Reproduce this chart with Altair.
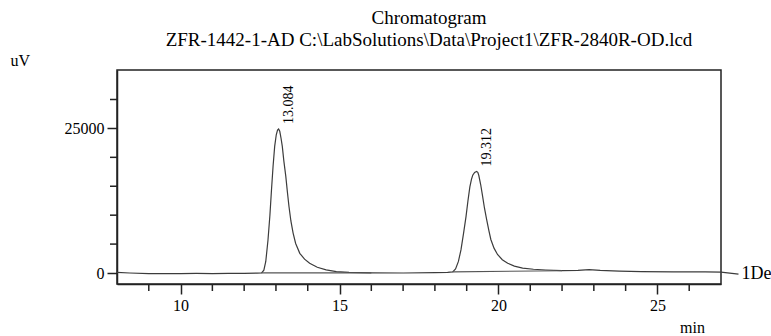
import altair as alt
import pandas as pd

# Chromatogram trace (min, uV)
times = [8.0, 8.4, 9.0, 9.5, 10.0, 10.5, 11.0, 11.5, 12.0, 12.4, 12.55, 12.62, 12.68,
         12.75, 12.81, 12.86, 12.91, 12.96, 13.01, 13.05, 13.084, 13.12, 13.16, 13.20,
         13.25, 13.31, 13.36, 13.41, 13.47, 13.54, 13.62, 13.75, 13.90, 14.06, 14.3,
         14.58, 14.9, 15.3, 16.0, 17.0, 18.0, 18.4, 18.56, 18.65, 18.74, 18.82, 18.90,
         18.98, 19.04, 19.10, 19.15, 19.19, 19.25, 19.312, 19.35, 19.38, 19.44, 19.50,
         19.56, 19.63, 19.70, 19.76, 19.86, 19.97, 20.12, 20.29, 20.5, 20.76, 21.1,
         21.49, 22.0, 22.5, 22.85, 23.2, 23.8, 24.5, 25.5, 26.5, 27.0, 27.55]
signal = [100, 0, -120, -100, -120, -80, -100, -60, -50, -20, 20, 500, 2000,
          5700, 10000, 14400, 18500, 21900, 23900, 24700, 24900, 24500, 23300, 21900,
          19300, 16700, 14000, 11500, 9000, 6900, 5100, 3400, 2400, 1700, 1000,
          550, 250, 100, 20, 0, 50, 100, 200, 700, 2000, 4000, 6800,
          9800, 12500, 14900, 16200, 16900, 17400, 17550, 17400, 16900, 15300, 13300,
          11200, 9200, 7300, 5800, 4300, 3200, 2300, 1700, 1200, 850, 650,
          520, 400, 450, 600, 450, 320, 250, 200, 180, 160, -200]

# integration baselines
base_peak = ["p1", "p1", "p2", "p2"]
base_time = [12.55, 16.0, 18.56, 22.0]
base_value = [20, 20, 200, 400]

# peak labels
peak_rt = [13.084, 19.312]
peak_height = [24900, 17550]
peak_label = ["13.084", "19.312"]

det_label = ["1Det.A Ch1"]

x_minor = [9.0, 11.0, 12.0, 13.0, 14.0, 16.0, 17.0, 18.0, 19.0, 21.0, 22.0, 23.0, 24.0, 26.0]
x_major = [10, 15, 20, 25]
y_minor = [5000.0, 10000.0, 15000.0, 20000.0, 30000.0]
y_major = [0, 25000]

FONT = "Liberation Serif, Times New Roman, DejaVu Serif, serif"
LINE = "#3c3c3c"
DARK = "#222222"

trace = pd.DataFrame({"t": times, "v": signal})
base = pd.DataFrame({"peak": base_peak, "t": base_time, "v": base_value})
peaks = pd.DataFrame({"t": peak_rt, "v": peak_height, "label": peak_label})
det = pd.DataFrame({"t": [times[-1]], "v": [signal[-1]], "label": det_label})
xmin_df = pd.DataFrame({"t": x_minor})
ymin_df = pd.DataFrame({"v": y_minor})

xscale = alt.Scale(domain=[8, 27], nice=False, zero=False)
yscale = alt.Scale(domain=[-1900, 35100], nice=False, zero=False)

common = dict(
    grid=False, labelOverlap=False, labelFlush=False,
    labelFont=FONT, labelFontSize=16, labelColor="black",
    titleFont=FONT, titleFontSize=16, titleFontWeight="normal", titleColor="black",
    domainColor=DARK, domainWidth=1.5, tickColor=DARK, tickWidth=1.5,
)

x_axis = alt.Axis(
    values=x_major, tickSize=10, format="d", labelPadding=3,
    title="min", titleX=575, titleY=43, titleAlign="center", titleBaseline="middle",
    **common,
)
y_axis = alt.Axis(
    values=y_major, tickSize=10, format="d", labelPadding=3,
    title="uV", titleAngle=0, titleX=-107, titleY=-10, titleAlign="left",
    titleBaseline="middle", **common,
)

X = alt.X("t:Q", scale=xscale, axis=x_axis)
Y = alt.Y("v:Q", scale=yscale, axis=y_axis)

bl = alt.Chart(base).mark_line(color="#555555", strokeWidth=1.1).encode(
    x=X, y=Y, detail="peak:N",
)
line = alt.Chart(trace).mark_line(color=LINE, strokeWidth=1.2).encode(
    x=X, y=Y, order="t:Q",
)
detlab = alt.Chart(det).mark_text(
    align="left", baseline="middle", dx=3, font=FONT, fontSize=18, color="black",
).encode(x=X, y=Y, text="label:N")

labels = alt.Chart(peaks).mark_text(
    angle=270, align="left", baseline="middle", dx=5, dy=10,
    font=FONT, fontSize=14, color="black",
).encode(x=X, y=Y, text="label:N")

# minor ticks (through the same scales)
xminor = alt.Chart(xmin_df).mark_rule(color=DARK, strokeWidth=1.5).encode(
    x=X, y=alt.value(214), y2=alt.value(221),
)
yminor = alt.Chart(ymin_df).mark_rule(color=DARK, strokeWidth=1.5).encode(
    y=Y, x=alt.value(-7), x2=alt.value(0),
)

chart = alt.layer(line, bl, labels, detlab, xminor, yminor).properties(
    width=604,
    height=214,
    background="white",
    title=alt.TitleParams(
        text=["Chromatogram",
              "ZFR-1442-1-AD C:\\LabSolutions\\Data\\Project1\\ZFR-2840R-OD.lcd"],
        font=FONT, fontSize=19, fontWeight="normal", color="black",
        anchor="middle", lineHeight=22, offset=2, dx=10,
    ),
    autosize=alt.AutoSizeParams(type="none"),
    padding={"left": 117, "top": 70, "right": 50, "bottom": 52},
).configure_view(
    stroke=DARK, strokeWidth=1.5,
)

chart.save("out.html", embed_options={"renderer": "svg", "actions": False})
